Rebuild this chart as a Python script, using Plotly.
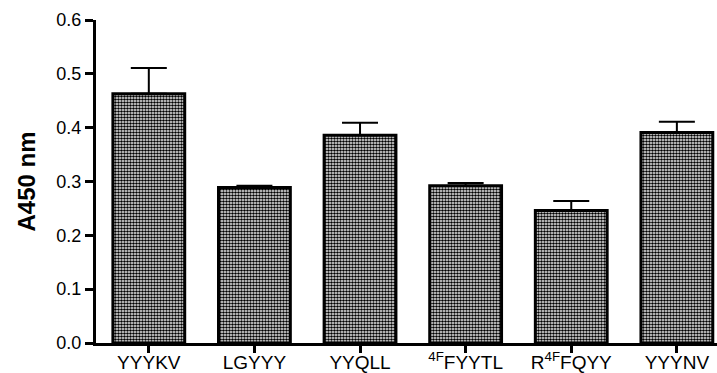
import plotly.graph_objects as go

# Peptide absorbance readings (A450) with standard error
peptides = ["YYYKV", "LGYYY", "YYQLL", "<sup>4F</sup>FYYTL", "R<sup>4F</sup>FQYY", "YYYNV"]
a450_mean = [0.463, 0.289, 0.386, 0.292, 0.246, 0.391]
a450_err = [0.048, 0.003, 0.023, 0.005, 0.018, 0.020]

fig = go.Figure()
fig.add_trace(go.Bar(
    x=list(range(len(peptides))),
    y=a450_mean,
    width=0.68,
    marker=dict(
        color="white",
        line=dict(color="black", width=3),
        pattern=dict(shape=".", size=3, solidity=0.6, fgcolor="black", bgcolor="white", fillmode="replace"),
    ),
    error_y=dict(type="data", array=a450_err, arrayminus=[0] * len(a450_err),
                 symmetric=False, color="black", thickness=2, width=18),
))

fig.update_layout(
    width=717, height=373,
    margin=dict(l=96, r=0, t=20, b=30),
    plot_bgcolor="white", paper_bgcolor="white",
    showlegend=False,
    font=dict(family="Liberation Sans, Arial, sans-serif", color="black"),
)
fig.update_xaxes(
    range=[-0.5, 5.38],
    tickmode="array", tickvals=list(range(len(peptides))), ticktext=peptides,
    showline=True, linecolor="black", linewidth=3,
    ticks="outside", ticklen=7, tickwidth=3, tickcolor="black",
    ticklabelstandoff=-7,
    tickfont=dict(size=19), showgrid=False, zeroline=False, automargin=False,
)
fig.update_yaxes(
    range=[0, 0.6], tickvals=[0, 0.1, 0.2, 0.3, 0.4, 0.5, 0.6],
    ticktext=["0.0", "0.1", "0.2", "0.3", "0.4", "0.5", "0.6"],
    showline=True, linecolor="black", linewidth=3,
    ticks="outside", ticklen=8, tickwidth=3, tickcolor="black",
    tickfont=dict(size=18), showgrid=False, zeroline=False, automargin=False,
    title=dict(text="<b>A450 nm</b>", font=dict(size=24), standoff=14),
)

fig.write_html("out.html")
